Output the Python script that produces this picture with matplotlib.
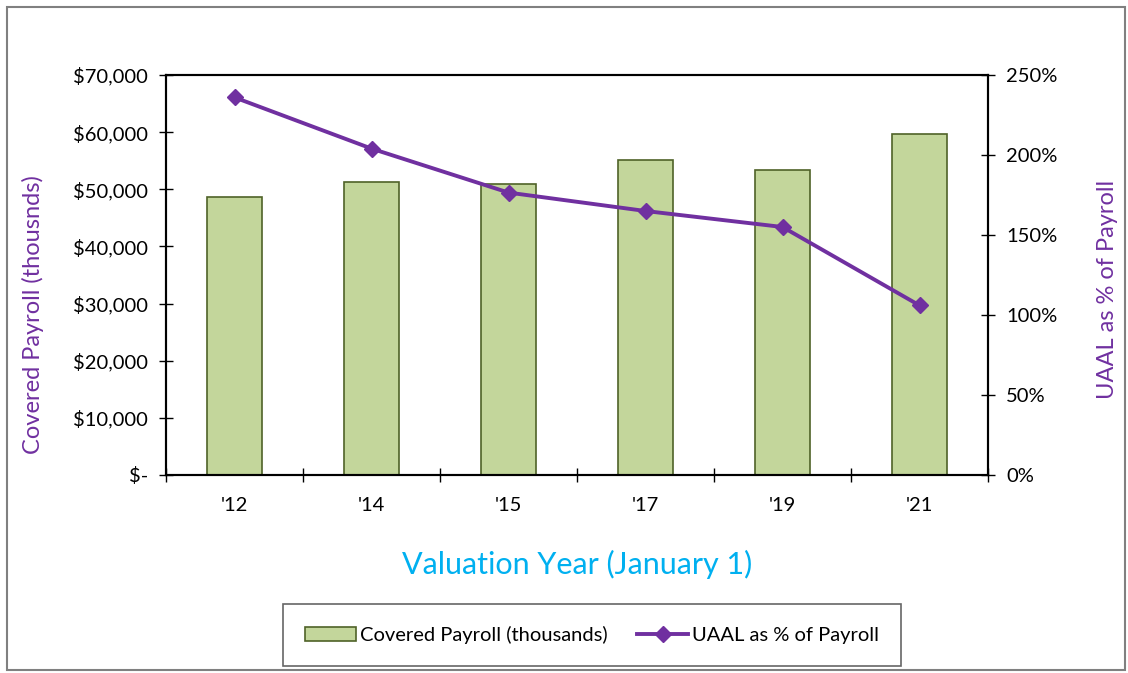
import matplotlib
matplotlib.use("Agg")
import matplotlib.pyplot as plt
from matplotlib.patches import Rectangle
from matplotlib.ticker import FuncFormatter, FixedLocator

years = ["'12", "'14", "'15", "'17", "'19", "'21"]
payroll = [48600, 51200, 51000, 55100, 53350, 59650]
uaal_pct = [236, 204, 176.5, 165, 155, 106]

plt.rcParams['font.family'] = ['Lato', 'DejaVu Sans']

fig = plt.figure(figsize=(11.28, 6.73), dpi=100)
fig.patches.append(Rectangle((7/1128, 3/673), 1 - 10/1128, 1 - 10/673, transform=fig.transFigure,
                             fill=False, edgecolor='#808080', linewidth=1.5))

ax = fig.add_axes([166/1128, 1 - 475/673, (988 - 166)/1128, 400/673])
x = list(range(len(years)))
bars = ax.bar(x, payroll, width=0.4, color='#C3D69B', edgecolor='#4F6228', linewidth=1.2,
              label='Covered Payroll (thousands)', zorder=2)
ax.set_xlim(-0.5, len(years) - 0.5)
ax.set_ylim(0, 70000)
ax.set_yticks(range(0, 70001, 10000))
ax.yaxis.set_major_formatter(FuncFormatter(lambda v, p: '$-' if v == 0 else f'${v:,.0f}'))
ax.set_xticks(x)
ax.set_xticklabels(years)
ax.xaxis.set_minor_locator(FixedLocator([i + 0.5 for i in range(-1, len(years))]))
ax.tick_params(axis='x', which='major', length=0, pad=16, labelsize=14.5)
ax.tick_params(axis='x', which='minor', length=10, direction='inout', width=1)
ax.tick_params(axis='y', length=10, direction='inout', width=1, labelsize=14.5, pad=8)
for s in ax.spines.values():
    s.set_linewidth(1.5)
ax.set_ylabel('Covered Payroll (thousnds)', color='#7030A0', fontsize=17)
ax.yaxis.set_label_coords(-0.149, 0.40)
ax.set_xlabel('Valuation Year (January 1)', color='#00B0F0', fontsize=22, labelpad=26)

ax2 = ax.twinx()
line, = ax2.plot(x, uaal_pct, color='#7030A0', linewidth=2.8, marker='D', markersize=8,
                 label='UAAL as % of Payroll', zorder=3)
ax2.set_ylim(0, 250)
ax2.set_yticks(range(0, 251, 50))
ax2.yaxis.set_major_formatter(FuncFormatter(lambda v, p: f'{v:.0f}%'))
ax2.tick_params(axis='y', length=10, direction='inout', width=1, labelsize=14.5, pad=8)
ax2.set_ylabel('UAAL as % of Payroll', color='#7030A0', fontsize=17)
ax2.yaxis.set_label_coords(1.132, 0.465)
for s in ax2.spines.values():
    s.set_linewidth(1.5)

leg = fig.legend([bars, line], ['Covered Payroll (thousands)', 'UAAL as % of Payroll'],
                 loc='center', bbox_to_anchor=(592/1128, 1 - 635/673), ncol=2, fontsize=14.5,
                 frameon=True, fancybox=False, edgecolor='#404040', borderpad=1.1,
                 handlelength=2.5, columnspacing=1.5, handletextpad=0.2)
leg.get_frame().set_linewidth(1.2)

fig.savefig('out.png', dpi=100)
